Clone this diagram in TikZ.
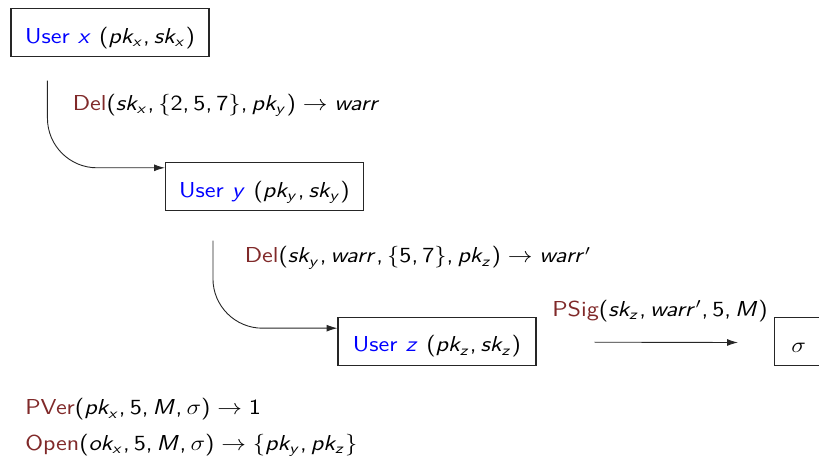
\documentclass[tikz,border=0pt]{standalone}
\usepackage{graphicx}
\usetikzlibrary{arrows.meta,calc}
% sans serif math: slanted sans letters, upright sans digits and punctuation
\DeclareSymbolFont{sfit}{OT1}{cmss}{m}{sl}
\DeclareSymbolFont{sfup}{OT1}{cmss}{m}{n}
\newcommand{\sfletter}[1]{\DeclareMathSymbol{#1}{\mathalpha}{sfit}{`#1}}
\newcommand{\sfdigit}[1]{\DeclareMathSymbol{#1}{\mathalpha}{sfup}{`#1}}
\sfletter{a}\sfletter{k}\sfletter{o}\sfletter{p}\sfletter{r}\sfletter{s}
\sfletter{w}\sfletter{x}\sfletter{y}\sfletter{z}\sfletter{M}
\sfdigit{1}\sfdigit{2}\sfdigit{5}\sfdigit{7}
\DeclareMathSymbol{(}{\mathopen}{sfup}{`(}
\DeclareMathSymbol{)}{\mathclose}{sfup}{`)}
\DeclareMathSymbol{,}{\mathpunct}{sfup}{`,}
\definecolor{opred}{rgb}{0.50,0.16,0.16}
% slightly widened lettering
\newcommand{\wide}[1]{\scalebox{1.14}[1]{#1}}
\newcommand{\op}[1]{\textcolor{opred}{#1}}
\newcommand{\usr}[1]{\textcolor{blue}{User $#1$}}
\tikzset{
  base/.style={font=\fontsize{12}{14.4}\selectfont\sffamily},
  party/.style={base, draw=black!85, line width=0.6pt, rectangle,
    minimum width=109.9pt, minimum height=26.6pt, inner sep=0pt,
    text height=14.5pt, text depth=2.7pt},
  lbl/.style={base, anchor=base west, inner sep=0pt},
  flow/.style={line width=0.5pt, draw=black!85,
    -{Latex[length=6pt,width=3.8pt]}},
}
\begin{document}
\begin{tikzpicture}[x=0.555pt, y=-0.555pt]
  \clip (0,0) rectangle (819,460);

  % parties
  \node[party] (ux) at (110,32.8) {\wide{\usr{x} $(pk_x, sk_x)$}};
  \node[party] (uy) at (264.5,186.8) {\wide{\usr{y} $(pk_y, sk_y)$}};
  \node[party] (uz) at (437,341.2) {\wide{\usr{z} $(pk_z, sk_z)$}};
  \node[party, anchor=north west, minimum width=0pt, text width=40pt,
        align=left, inner xsep=9.3pt] (sg) at (774,317) {\wide{$\sigma$}};

  % delegation steps
  \coordinate (s1) at ($(ux.south west)+(37,23.3)$);
  \coordinate (e1) at ($(uy.north west)+(0,5.5)$);
  \draw[flow, rounded corners=27.5pt] (s1) |- (e1);
  \node[lbl] (d1) at (72.5,110.5)
    {\wide{\op{Del}$(sk_x, \{2,5,7\}, pk_y) \rightarrow warr$}};

  \coordinate (s2) at ($(uy.south west)+(48,29.3)$);
  \coordinate (e2) at ($(uz.north west)+(0,11.5)$);
  \draw[flow, rounded corners=27.5pt] (s2) |- (e2);
  \node[lbl] (d2) at (244.5,263)
    {\wide{\op{Del}$(sk_y, warr, \{5,7\}, pk_z) \rightarrow warr'$}};

  % signing
  \coordinate (p1) at ($(uz.east)+(58,1)$);
  \coordinate (p2) at ($(sg.west)+(-36,1)$);
  \draw[flow] (p1) -- (p2);
  \node[lbl] (ps) at (552,316.7) {\wide{\op{PSig}$(sk_z, warr', 5, M)$}};

  % verification and opening
  \node[lbl] (pv) at (25,415)
    {\wide{\op{PVer}$(pk_x, 5, M, \sigma) \rightarrow 1$}};
  \node[lbl] (po) at (25,450)
    {\wide{\op{Open}$(ok_x, 5, M, \sigma) \rightarrow \{pk_y, pk_z\}$}};
\end{tikzpicture}
\end{document}
